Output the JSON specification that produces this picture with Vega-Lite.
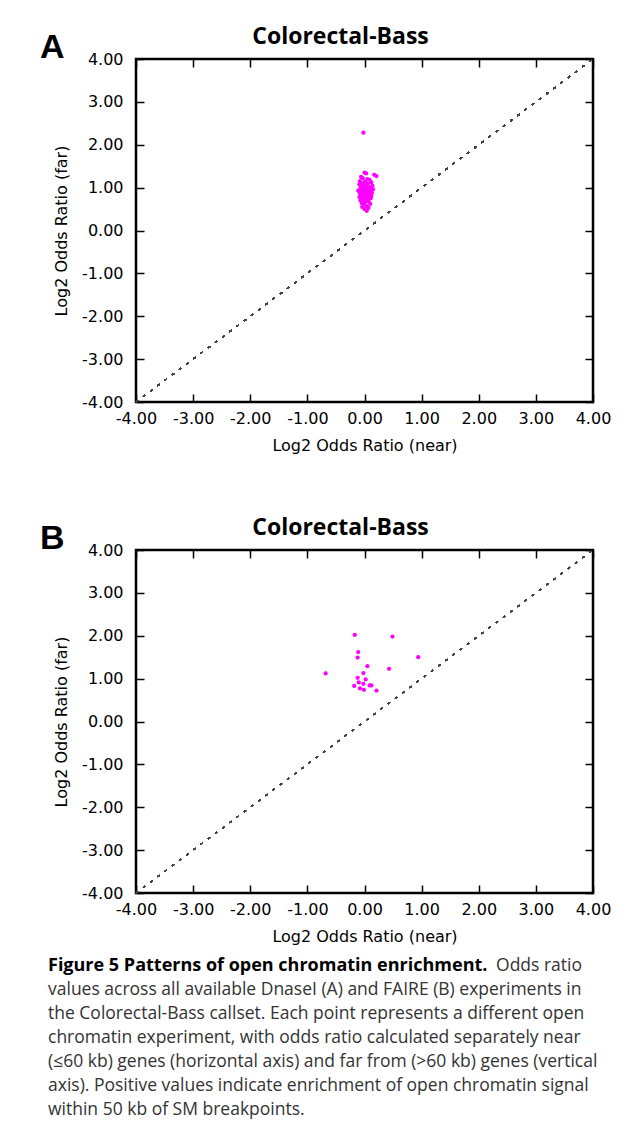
{
  "$schema": "https://vega.github.io/schema/vega-lite/v6.json",
  "padding": {"left": 38, "top": 24, "right": 0, "bottom": 0},
  "background": "white",
  "spacing": 60,
  "datasets": {
    "dnase": [
      {"near": -0.02, "far": 2.28},
      {"near": 0.00, "far": 1.35}, {"near": 0.03, "far": 1.33}, {"near": 0.17, "far": 1.30}, {"near": 0.21, "far": 1.27},
      {"near": -0.06, "far": 1.25}, {"near": -0.03, "far": 1.22}, {"near": 0.05, "far": 1.20}, {"near": 0.09, "far": 1.18},
      {"near": -0.08, "far": 1.15}, {"near": 0.01, "far": 1.14}, {"near": 0.12, "far": 1.12}, {"near": -0.04, "far": 1.10},
      {"near": 0.06, "far": 1.09}, {"near": -0.09, "far": 1.07}, {"near": 0.02, "far": 1.05}, {"near": 0.14, "far": 1.04},
      {"near": -0.05, "far": 1.03}, {"near": 0.08, "far": 1.01}, {"near": -0.01, "far": 1.00}, {"near": 0.11, "far": 0.99},
      {"near": -0.07, "far": 0.98}, {"near": 0.04, "far": 0.97}, {"near": 0.15, "far": 0.96}, {"near": -0.03, "far": 0.95},
      {"near": 0.07, "far": 0.94}, {"near": -0.11, "far": 0.93}, {"near": 0.00, "far": 0.92}, {"near": 0.10, "far": 0.91},
      {"near": -0.05, "far": 0.90}, {"near": 0.03, "far": 0.89}, {"near": 0.13, "far": 0.88}, {"near": -0.08, "far": 0.87},
      {"near": 0.06, "far": 0.86}, {"near": -0.02, "far": 0.85}, {"near": 0.09, "far": 0.84}, {"near": -0.06, "far": 0.83},
      {"near": 0.02, "far": 0.82}, {"near": 0.12, "far": 0.81}, {"near": -0.04, "far": 0.80}, {"near": 0.05, "far": 0.79},
      {"near": -0.09, "far": 0.78}, {"near": 0.08, "far": 0.77}, {"near": 0.00, "far": 0.76}, {"near": 0.11, "far": 0.75},
      {"near": -0.03, "far": 0.73}, {"near": 0.04, "far": 0.72}, {"near": -0.07, "far": 0.70}, {"near": 0.07, "far": 0.68},
      {"near": 0.01, "far": 0.66}, {"near": -0.05, "far": 0.64}, {"near": 0.10, "far": 0.62}, {"near": -0.02, "far": 0.60},
      {"near": 0.04, "far": 0.57}, {"near": -0.04, "far": 0.55}, {"near": 0.07, "far": 0.53}, {"near": 0.00, "far": 0.50},
      {"near": 0.04, "far": 0.46}
    ],
    "faire": [
      {"near": -0.17, "far": 2.02}, {"near": 0.49, "far": 1.98}, {"near": -0.11, "far": 1.62}, {"near": -0.12, "far": 1.49},
      {"near": 0.94, "far": 1.50}, {"near": 0.05, "far": 1.29}, {"near": 0.43, "far": 1.23}, {"near": -0.68, "far": 1.12},
      {"near": -0.02, "far": 1.13}, {"near": -0.12, "far": 1.02}, {"near": 0.02, "far": 0.98}, {"near": -0.10, "far": 0.91},
      {"near": -0.02, "far": 0.88}, {"near": -0.18, "far": 0.83}, {"near": 0.09, "far": 0.84}, {"near": 0.12, "far": 0.84},
      {"near": -0.08, "far": 0.77}, {"near": -0.01, "far": 0.74}, {"near": 0.21, "far": 0.72}
    ],
    "caption": [
      {"line": 1, "part": "bold", "text": "Figure 5 Patterns of open chromatin enrichment."},
      {"line": 1, "part": "right", "text": "Odds ratio"},
      {"line": 2, "part": "normal", "text": "values across all available DnaseI (A) and FAIRE (B) experiments in"},
      {"line": 3, "part": "normal", "text": "the Colorectal-Bass callset. Each point represents a different open"},
      {"line": 4, "part": "normal", "text": "chromatin experiment, with odds ratio calculated separately near"},
      {"line": 5, "part": "normal", "text": "(≤60 kb) genes (horizontal axis) and far from (>60 kb) genes (vertical"},
      {"line": 6, "part": "normal", "text": "axis). Positive values indicate enrichment of open chromatin signal"},
      {"line": 7, "part": "normal", "text": "within 50 kb of SM breakpoints."}
    ]
  },
  "config": {
    "view": {"stroke": "black", "strokeWidth": 2.5},
    "font": "DejaVu Sans"
  },
  "vconcat": [
    {
      "width": 457, "height": 343,
      "data": {"name": "dnase"},
      "resolve": {"axis": {"x": "independent", "y": "independent"}},
      "layer": [
        {
          "mark": {"type": "rule", "color": "#444", "strokeWidth": 1.2, "strokeDash": [2.5, 6.5]},
          "encoding": {
            "x": {"datum": -4, "type": "quantitative", "scale": {"domain": [-4, 4], "nice": false, "zero": false},
              "axis": {"orient": "top", "values": [-4, -3, -2, -1, 0, 1, 2, 3, 4], "labels": false, "title": null, "domain": false, "grid": false, "tickSize": -8, "tickWidth": 1.5, "tickColor": "black"}},
            "y": {"datum": -4, "type": "quantitative", "scale": {"domain": [-4, 4], "nice": false, "zero": false},
              "axis": {"orient": "right", "values": [-4, -3, -2, -1, 0, 1, 2, 3, 4], "labels": false, "title": null, "domain": false, "grid": false, "tickSize": -8, "tickWidth": 1.5, "tickColor": "black"}},
            "x2": {"datum": 4},
            "y2": {"datum": 4}
          }
        },
        {
          "mark": {"type": "circle", "size": 18, "color": "#ff00ff", "opacity": 1},
          "encoding": {
            "x": {"field": "near", "type": "quantitative",
              "axis": {"orient": "bottom", "values": [-4, -3, -2, -1, 0, 1, 2, 3, 4], "labelExpr": "replace(format(datum.value, '.2f'), '−', '-')", "labelFlush": false, "labelOverlap": false, "domain": false, "grid": false, "tickSize": -8, "tickWidth": 1.5, "tickColor": "black", "labelPadding": 16, "labelFont": "DejaVu Sans", "labelFontSize": 16, "labelColor": "black", "title": "Log2 Odds Ratio (near)", "titleFont": "DejaVu Sans", "titleFontSize": 16, "titleFontWeight": "normal", "titleColor": "black", "titlePadding": 11}},
            "y": {"field": "far", "type": "quantitative",
              "axis": {"orient": "left", "values": [-4, -3, -2, -1, 0, 1, 2, 3, 4], "labelExpr": "replace(format(datum.value, '.2f'), '−', '-')", "labelFlush": false, "labelOverlap": false, "domain": false, "grid": false, "tickSize": -8, "tickWidth": 1.5, "tickColor": "black", "labelPadding": 21, "labelFont": "DejaVu Sans", "labelFontSize": 16, "labelColor": "black", "title": "Log2 Odds Ratio (far)", "titleFont": "DejaVu Sans", "titleFontSize": 16, "titleFontWeight": "normal", "titleColor": "black", "titlePadding": 12}}
          }
        },
        {
          "data": {"values": [{"label": "A", "title": "Colorectal-Bass"}]},
          "layer": [
            {
              "mark": {"type": "text", "align": "left", "baseline": "alphabetic", "font": "Liberation Sans", "fontSize": 34, "fontWeight": "bold", "color": "black", "dx": -96, "dy": -1},
              "encoding": {
                "x": {"datum": -4, "type": "quantitative", "axis": null},
                "y": {"datum": 4, "type": "quantitative", "axis": null},
                "text": {"field": "label"}
              }
            },
            {
              "mark": {"type": "text", "align": "center", "baseline": "alphabetic", "font": "Open Sans", "fontSize": 23, "fontWeight": "bold", "color": "black", "dx": -24, "dy": -15},
              "encoding": {
                "x": {"datum": 0, "type": "quantitative", "axis": null},
                "y": {"datum": 4, "type": "quantitative", "axis": null},
                "text": {"field": "title"}
              }
            }
          ]
        }
      ]
    },
    {
      "spacing": 8,
      "vconcat": [
        {
          "width": 457, "height": 343,
          "data": {"name": "faire"},
          "resolve": {"axis": {"x": "independent", "y": "independent"}},
          "layer": [
            {
              "mark": {"type": "rule", "color": "#444", "strokeWidth": 1.2, "strokeDash": [2.5, 6.5]},
              "encoding": {
                "x": {"datum": -4, "type": "quantitative", "scale": {"domain": [-4, 4], "nice": false, "zero": false},
                  "axis": {"orient": "top", "values": [-4, -3, -2, -1, 0, 1, 2, 3, 4], "labels": false, "title": null, "domain": false, "grid": false, "tickSize": -8, "tickWidth": 1.5, "tickColor": "black"}},
                "y": {"datum": -4, "type": "quantitative", "scale": {"domain": [-4, 4], "nice": false, "zero": false},
                  "axis": {"orient": "right", "values": [-4, -3, -2, -1, 0, 1, 2, 3, 4], "labels": false, "title": null, "domain": false, "grid": false, "tickSize": -8, "tickWidth": 1.5, "tickColor": "black"}},
                "x2": {"datum": 4},
                "y2": {"datum": 4}
              }
            },
            {
              "mark": {"type": "circle", "size": 18, "color": "#ff00ff", "opacity": 1},
              "encoding": {
                "x": {"field": "near", "type": "quantitative",
                  "axis": {"orient": "bottom", "values": [-4, -3, -2, -1, 0, 1, 2, 3, 4], "labelExpr": "replace(format(datum.value, '.2f'), '−', '-')", "labelFlush": false, "labelOverlap": false, "domain": false, "grid": false, "tickSize": -8, "tickWidth": 1.5, "tickColor": "black", "labelPadding": 16, "labelFont": "DejaVu Sans", "labelFontSize": 16, "labelColor": "black", "title": "Log2 Odds Ratio (near)", "titleFont": "DejaVu Sans", "titleFontSize": 16, "titleFontWeight": "normal", "titleColor": "black", "titlePadding": 11}},
                "y": {"field": "far", "type": "quantitative",
                  "axis": {"orient": "left", "values": [-4, -3, -2, -1, 0, 1, 2, 3, 4], "labelExpr": "replace(format(datum.value, '.2f'), '−', '-')", "labelFlush": false, "labelOverlap": false, "domain": false, "grid": false, "tickSize": -8, "tickWidth": 1.5, "tickColor": "black", "labelPadding": 21, "labelFont": "DejaVu Sans", "labelFontSize": 16, "labelColor": "black", "title": "Log2 Odds Ratio (far)", "titleFont": "DejaVu Sans", "titleFontSize": 16, "titleFontWeight": "normal", "titleColor": "black", "titlePadding": 12}}
              }
            },
            {
              "data": {"values": [{"label": "B", "title": "Colorectal-Bass"}]},
              "layer": [
                {
                  "mark": {"type": "text", "align": "left", "baseline": "alphabetic", "font": "Liberation Sans", "fontSize": 34, "fontWeight": "bold", "color": "black", "dx": -96, "dy": -1},
                  "encoding": {
                    "x": {"datum": -4, "type": "quantitative", "axis": null},
                    "y": {"datum": 4, "type": "quantitative", "axis": null},
                    "text": {"field": "label"}
                  }
                },
                {
                  "mark": {"type": "text", "align": "center", "baseline": "alphabetic", "font": "Open Sans", "fontSize": 23, "fontWeight": "bold", "color": "black", "dx": -24, "dy": -15},
                  "encoding": {
                    "x": {"datum": 0, "type": "quantitative", "axis": null},
                    "y": {"datum": 4, "type": "quantitative", "axis": null},
                    "text": {"field": "title"}
                  }
                }
              ]
            }
          ]
        },
        {
          "width": 446, "height": 168,
          "view": {"stroke": null},
          "data": {"name": "caption"},
          "encoding": {
            "y": {"field": "line", "type": "ordinal", "scale": {"type": "point", "padding": 0.5, "domain": [1, 2, 3, 4, 5, 6, 7]}, "axis": null}
          },
          "layer": [
            {
              "transform": [{"filter": "datum.part === 'bold'"}],
              "mark": {"type": "text", "align": "left", "baseline": "middle", "font": "Open Sans", "fontSize": 18, "fontWeight": "bold", "color": "black", "dx": -88},
              "encoding": {"x": {"datum": 0, "type": "quantitative", "scale": {"domain": [0, 1], "nice": false, "zero": false}, "axis": null}, "text": {"field": "text"}}
            },
            {
              "transform": [{"filter": "datum.part === 'right'"}],
              "mark": {"type": "text", "align": "right", "baseline": "middle", "font": "Open Sans", "fontSize": 17.5, "color": "#333"},
              "encoding": {"x": {"datum": 1, "type": "quantitative"}, "text": {"field": "text"}}
            },
            {
              "transform": [{"filter": "datum.part === 'normal'"}],
              "mark": {"type": "text", "align": "left", "baseline": "middle", "font": "Open Sans", "fontSize": 17.5, "color": "#333", "dx": -88},
              "encoding": {"x": {"datum": 0, "type": "quantitative"}, "text": {"field": "text"}}
            }
          ]
        }
      ]
    }
  ]
}
